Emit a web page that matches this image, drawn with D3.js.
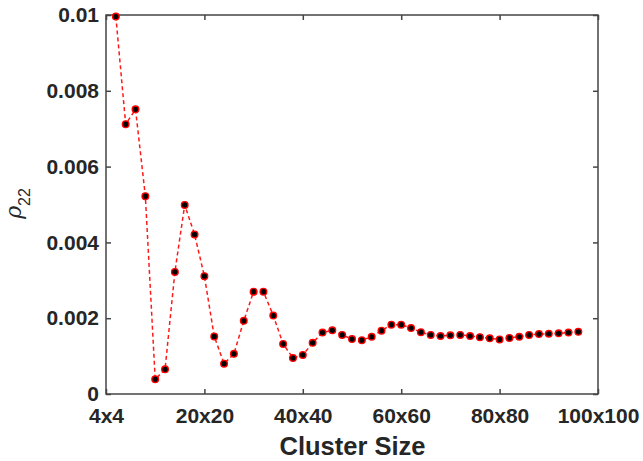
<!DOCTYPE html>
<html><head><meta charset="utf-8">
<script src="https://cdn.jsdelivr.net/npm/d3@7"></script>
<style>
body{margin:0;background:#fff;}
text{font-family:"Liberation Sans",Arial,sans-serif;}
</style></head>
<body><svg id="c" width="643" height="461"></svg>
<script>
const sizes = [2,4,6,8,10,12,14,16,18,20,22,24,26,28,30,32,34,36,38,40,42,44,46,48,50,52,54,56,58,60,62,64,66,68,70,72,74,76,78,80,82,84,86,88,90,92,94,96];
const rho22 = [0.00996,0.00712,0.00751,0.00522,0.00039,0.00065,0.00322,0.00499,0.00421,0.00311,0.00152,0.00080,0.00106,0.00193,0.00270,0.00270,0.00207,0.00132,0.00095,0.00103,0.00135,0.00162,0.00168,0.00156,0.00145,0.00142,0.00151,0.00167,0.00183,0.00183,0.00174,0.00163,0.00156,0.00153,0.00155,0.00156,0.00153,0.00150,0.00147,0.00144,0.00148,0.00151,0.00156,0.00158,0.00159,0.00160,0.00162,0.00164];
const xTicks = [0,20,40,60,80,100];
const xTickLabels = ["4x4","20x20","40x40","60x60","80x80","100x100"];
const yTicks = [0,0.002,0.004,0.006,0.008,0.01];
const yTickLabels = ["0","0.002","0.004","0.006","0.008","0.01"];

const svg = d3.select("#c");
const L=106,T=15,R=598,B=394;
const x = d3.scaleLinear().domain([0,100]).range([L,R]);
const y = d3.scaleLinear().domain([0,0.01]).range([B,T]);
const axCol="#454545";
const txtCol="#262626";

svg.append("rect").attr("x",L).attr("y",T).attr("width",R-L).attr("height",B-T)
  .attr("fill","none").attr("stroke",axCol).attr("stroke-width",1.5);

const fmtX = (d)=>xTickLabels[xTicks.indexOf(d)];
const fmtY = (d)=>yTickLabels[yTicks.indexOf(d)];

const gx = svg.append("g").attr("transform",`translate(0,${B})`)
  .call(d3.axisBottom(x).tickValues(xTicks).tickFormat(fmtX).tickSizeInner(-5).tickSizeOuter(0).tickPadding(14));
const gxt = svg.append("g").attr("transform",`translate(0,${T})`)
  .call(d3.axisTop(x).tickValues(xTicks).tickFormat("").tickSizeInner(-5).tickSizeOuter(0));
const gy = svg.append("g").attr("transform",`translate(${L},0)`)
  .call(d3.axisLeft(y).tickValues(yTicks).tickFormat(fmtY).tickSizeInner(-5).tickSizeOuter(0).tickPadding(7));
const gyr = svg.append("g").attr("transform",`translate(${R},0)`)
  .call(d3.axisRight(y).tickValues(yTicks).tickFormat("").tickSizeInner(-5).tickSizeOuter(0));
[gx,gxt,gy,gyr].forEach(g=>{
  g.select(".domain").remove();
  g.selectAll("line").attr("stroke",axCol).attr("stroke-width",1.5);
  g.selectAll("text").attr("fill",txtCol).style("font-size","21px").style("font-weight","bold").style("font-family","'Liberation Sans',Arial,sans-serif");
});

svg.append("text").attr("x",352.5).attr("y",455).attr("text-anchor","middle")
  .attr("fill",txtCol).style("font-size","25.5px").style("font-weight","bold").text("Cluster Size");

const yl = svg.append("text").attr("transform","translate(21,203.5) rotate(-90)").attr("text-anchor","middle")
  .attr("fill",txtCol).style("font-size","22px");
yl.append("tspan").style("font-style","italic").style("font-family","'DejaVu Serif',serif").text("ρ");
yl.append("tspan").attr("dy",9).style("font-size","16px").text("22");

const data = sizes.map((s,i)=>({s,v:rho22[i]}));
svg.append("path").datum(data)
  .attr("d",d3.line().x(d=>x(d.s)).y(d=>y(d.v)))
  .attr("fill","none").attr("stroke","#ff1a1a").attr("stroke-width",1.5).attr("stroke-dasharray","4,3");
svg.selectAll("circle.pt").data(data).enter().append("circle").attr("class","pt")
  .attr("cx",d=>x(d.s)).attr("cy",d=>y(d.v)).attr("r",3.3)
  .attr("fill","#000").attr("stroke","#ff0000").attr("stroke-width",1.4);
</script></body></html>
